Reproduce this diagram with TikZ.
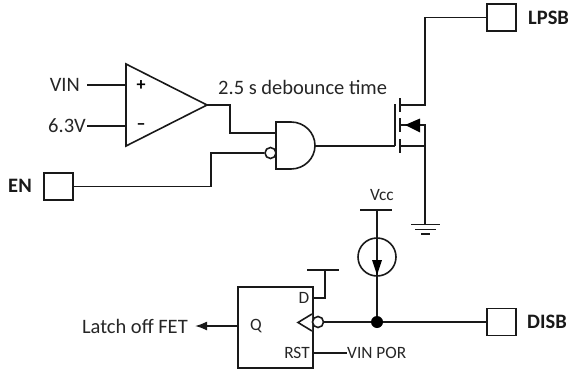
\documentclass[tikz,border=0pt]{standalone}
\usepackage{fontspec}
\setmainfont{Carlito}
\usetikzlibrary{arrows.meta,calc}
\tikzset{
  wire/.style={line width=1.6pt,draw=black!90,line join=miter},
  pad/.style={draw=black!90,line width=1.6pt,minimum width=29pt,minimum height=27pt,inner sep=0pt,fill=white},
  lbl/.style={font=\fontsize{20.5}{22}\selectfont,inner sep=0pt,text=black!85},
  blbl/.style={font=\fontsize{20.5}{22}\selectfont\bfseries,inner sep=0pt,text=black!90},
  slbl/.style={font=\fontsize{17.3}{19}\selectfont,inner sep=0pt,text=black!85},
  bubble/.style={circle,draw=black!90,line width=1.6pt,fill=white,minimum size=11pt,inner sep=0pt},
  solder/.style={circle,fill=black,minimum size=12pt,inner sep=0pt}
}
\begin{document}
\begin{tikzpicture}[x=1pt,y=-1pt]
\useasboundingbox (0,0) rectangle (570,369);
% pads
\node[pad] (lpsb) at (501.5,17.5) {};
\node[pad] (en) at (58.5,186.5) {};
\node[pad] (disb) at (501.5,322) {};
\node[blbl,anchor=west] (lpsbt) at (528,18) {LPSB};
\node[blbl] (ent) at (20,186) {EN};
\node[blbl,anchor=west] (disbt) at (527,322) {DISB};
% comparator
\coordinate (oa1) at (126,64); \coordinate (oa2) at (126,146); \coordinate (oaout) at (207,105);
\draw[wire] (oa1) -- (oa2) -- (oaout) -- cycle;
\node[lbl,anchor=east] (vin) at (80,85) {VIN};
\node[lbl,anchor=east] (v63) at (86,126) {6.3V};
\coordinate (oap) at (126,85); \coordinate (oam) at (126,126);
\coordinate (vinw) at (87,85); \coordinate (v63w) at (87,126);
\draw[wire] (vinw) -- (oap);
\draw[wire] (v63w) -- (oam);
\node[inner sep=0pt,font=\fontsize{18}{18}\selectfont\bfseries] (plus) at (141,86) {+};
\node[inner sep=0pt,font=\fontsize{18}{18}\selectfont\bfseries] (minus) at (141,127) {\textendash};
\node[lbl,anchor=west] (deb) at (218,87) {2.5 s debounce time};
% NAND
\coordinate (ga) at (276,133); \coordinate (gout) at (315,146);
\draw[wire] (276,122) -- (291,122) arc[start angle=-90,end angle=90,x radius=24pt,y radius=-23.5pt] -- (276,169) -- cycle;
\node[bubble] (gb) at (270.5,153) {};
\draw[wire] (oaout) -- (230,105) -- (230,133) -- (ga);
\draw[wire] (en.east) -- (211,186.5) -- (211,153) -- (gb.west);
% FET
\coordinate (gate) at (395,146);
\draw[wire] (gout) -- (gate);
\draw[wire] (395,104) -- (gate);
\draw[wire] (400,98) -- (400,112);
\draw[wire] (400,118) -- (400,132);
\draw[wire] (400,139) -- (400,153);
\coordinate (dr) at (425,105);
\draw[wire] (lpsb.west) -- (425,17.5) -- (dr) -- (400,105);
\draw[wire] (400,125) -- (425,125) -- (425,146) -- (400,146);
\fill[black] (405,125) -- (420,118.5) -- (420,132.5) -- cycle;
% ground
\coordinate (gnd) at (425,224);
\draw[wire] (425,146) -- (gnd);
\draw[wire] (411,224.5) -- (440,224.5);
\draw[wire] (415,229.5) -- (436,229.5);
\draw[wire] (421,234) -- (430,234);
% current source
\node[slbl] (vcc) at (382,195) {Vcc};
\draw[wire] (360,210) -- (392,210);
\node[circle,draw=black!90,line width=1.6pt,minimum size=38pt,inner sep=0pt] (cs) at (377,257) {};
\coordinate (vccb) at (377,210);
\draw[wire] (vccb) -- (cs.north);
\draw[wire] (cs.north) -- (cs.south);
\fill[black] (377,275) -- (372,260) -- (382,260) -- cycle;
\node[solder] (dot) at (377,322) {};
\draw[wire] (cs.south) -- (dot);
% flip-flop
\node[draw=black!90,line width=1.6pt,minimum width=75pt,minimum height=81pt,inner sep=0pt,anchor=north west] (ff) at (237,286) {};
\draw[wire,fill=white] (312,314) -- (298,322.5) -- (312,331);
\node[bubble] (ckb) at (318,322) {};
\draw[wire] (ckb.east) -- (dot) -- (disb.west);
\node[slbl] (d) at (304,298) {D};
\node[slbl] (q) at (256,326) {Q};
\node[slbl] (rst) at (297,353) {RST};
\node[slbl,anchor=west] (por) at (347,353) {VIN POR};
\draw[wire] (312,353) -- (por.west);
\draw[wire] (312,298) -- (325,298) -- (325,270);
\draw[wire] (307,270) -- (339,270);
\node[lbl,anchor=east] (latch) at (188,326) {Latch off FET};
\coordinate (ffq) at (237,326);
\coordinate (tip) at (195,326);
\draw[wire,-{Latex[length=12pt,width=9pt]}] (ffq) -- (tip);
\end{tikzpicture}
\end{document}
